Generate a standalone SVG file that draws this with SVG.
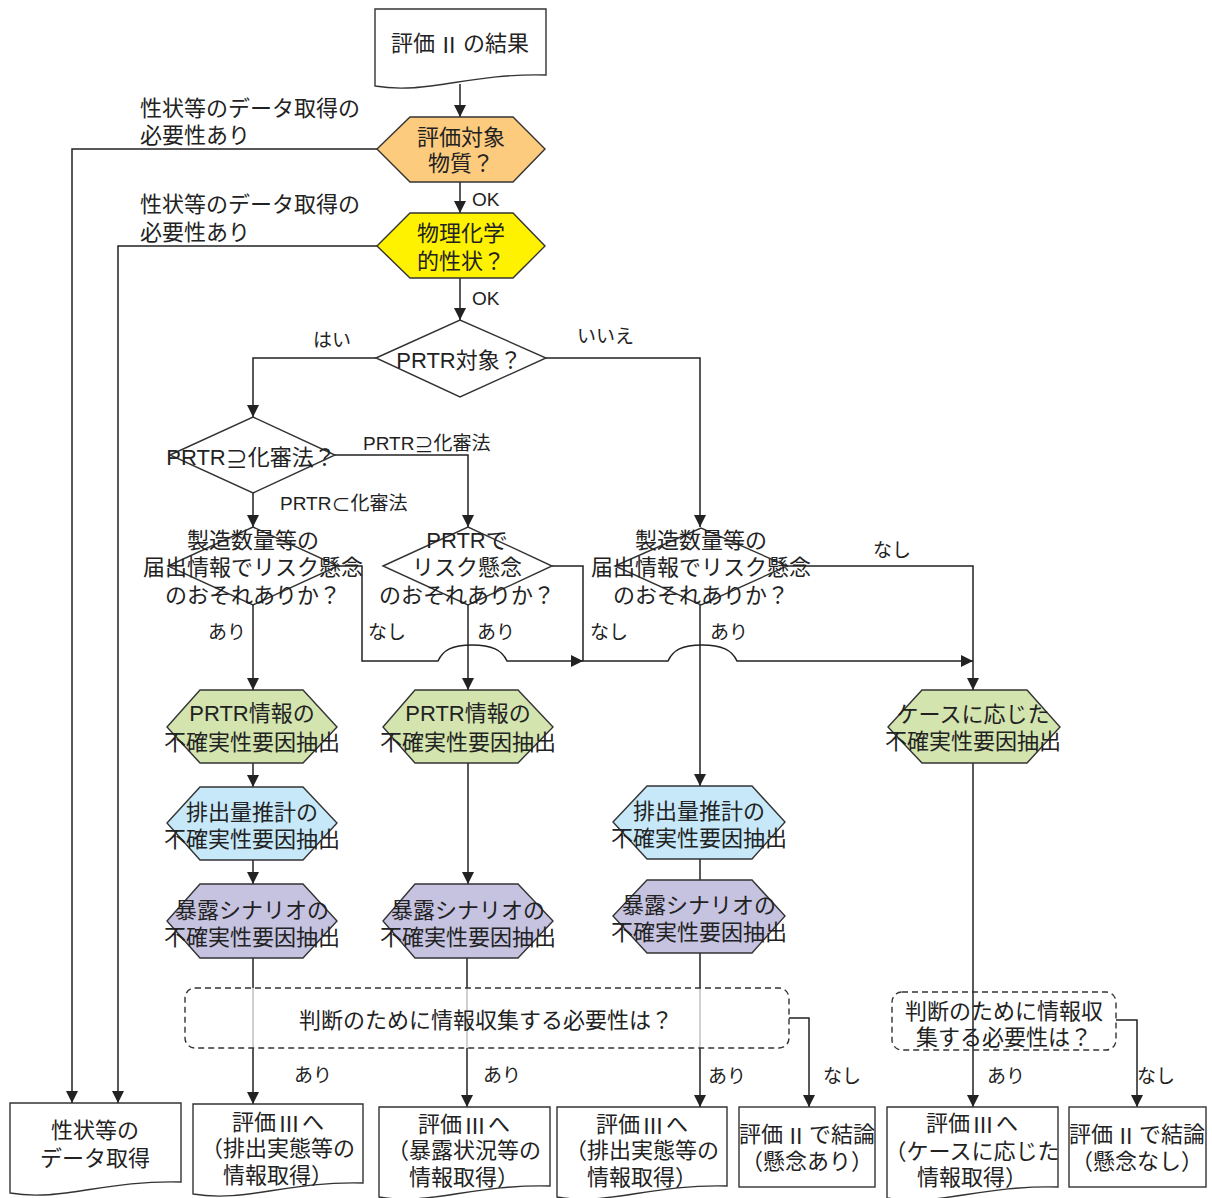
<svg xmlns="http://www.w3.org/2000/svg" width="1212" height="1198" viewBox="0 0 1212 1198">
<style>
.ln{fill:none;stroke:#222;stroke-width:1.5}
.lt{fill:none;stroke:#b0b0b0;stroke-width:1.2}
.sh{stroke:#333;stroke-width:1.4}
.box{fill:#fff;stroke:#333;stroke-width:1.4}
.dash{fill:none;stroke:#333;stroke-width:1.4;stroke-dasharray:6 4}
.t{font-family:"Liberation Sans","Noto Sans CJK JP",sans-serif;font-size:22px;fill:#222;text-anchor:middle;dominant-baseline:central}
.cj{font-family:"Noto Sans CJK JP",sans-serif}
.l{text-anchor:start}
.s{font-size:19px;text-anchor:start}
.or{fill:#FDCB7E}
.ye{fill:#FFF200}
.gr{fill:#D3E4AF}
.bl{fill:#C7E8F8}
.pu{fill:#C6C3E1}
.wh{fill:#fff}
</style>
<defs>
<marker id="a" markerUnits="userSpaceOnUse" markerWidth="12" markerHeight="12" refX="12" refY="6" orient="auto">
<path d="M0,0 L12,6 L0,12 z" fill="#222"/>
</marker>
</defs>

<g id="connectors">
<path class="ln" d="M460,84 V117" marker-end="url(#a)"/>
<path class="ln" d="M377,149 H72 V1103" marker-end="url(#a)"/>
<path class="ln" d="M460,182 V213" marker-end="url(#a)"/>
<path class="ln" d="M377,246 H118 V1103" marker-end="url(#a)"/>
<path class="ln" d="M460,278 V320" marker-end="url(#a)"/>
<path class="ln" d="M376,358 H253 V417" marker-end="url(#a)"/>
<path class="ln" d="M546,358 H700 V527" marker-end="url(#a)"/>
<path class="ln" d="M335,455 H468 V527" marker-end="url(#a)"/>
<path class="ln" d="M253,493 V527" marker-end="url(#a)"/>
<path class="ln" d="M338,566 H362 V661 H438 C443,650 452,645 472,645 C492,645 502,650 507,661 H583" marker-end="url(#a)"/>
<path class="ln" d="M552,566 H583 V661 H668 C673,650 682,645 702,645 C722,645 732,650 737,661 H973" marker-end="url(#a)"/>
<path class="ln" d="M787,566 H973 V690" marker-end="url(#a)"/>
<path class="ln" d="M253,605 V690" marker-end="url(#a)"/>
<path class="ln" d="M468,605 V690" marker-end="url(#a)"/>
<path class="ln" d="M700,605 V786" marker-end="url(#a)"/>
<path class="ln" d="M253,763 V787" marker-end="url(#a)"/>
<path class="ln" d="M253,860 V884" marker-end="url(#a)"/>
<path class="ln" d="M468,763 V884" marker-end="url(#a)"/>
<path class="ln" d="M700,859 V880"/>
<path class="ln" d="M253,958 V988"/>
<path class="lt" d="M253,988 V1048"/>
<path class="ln" d="M253,1048 V1104" marker-end="url(#a)"/>
<path class="ln" d="M467,958 V988"/>
<path class="lt" d="M467,988 V1048"/>
<path class="ln" d="M467,1048 V1107" marker-end="url(#a)"/>
<path class="ln" d="M700,953 V988"/>
<path class="lt" d="M700,988 V1048"/>
<path class="ln" d="M700,1048 V1107" marker-end="url(#a)"/>
<path class="ln" d="M973,763 V1107" marker-end="url(#a)"/>
<path class="ln" d="M789,1018 H809 V1107" marker-end="url(#a)"/>
<path class="ln" d="M1116,1020 H1137 V1107" marker-end="url(#a)"/>
</g>

<g id="labels">
<text class="t l" x="140" y="108">性状等のデータ取得の</text>
<text class="t l" x="140" y="135">必要性あり</text>
<text class="t l" x="140" y="204">性状等のデータ取得の</text>
<text class="t l" x="140" y="232">必要性あり</text>
<text class="t s" x="472" y="199">OK</text>
<text class="t s" x="472" y="298">OK</text>
<text class="t s" x="313" y="340">はい</text>
<text class="t s" x="577" y="336">いいえ</text>
<text class="t s" x="363" y="443">PRTR<tspan class="cj">⊇</tspan>化審法</text>
<text class="t s" x="280" y="503">PRTR<tspan class="cj">⊂</tspan>化審法</text>
<text class="t s" x="208" y="632">あり</text>
<text class="t s" x="368" y="632">なし</text>
<text class="t s" x="477" y="632">あり</text>
<text class="t s" x="590" y="632">なし</text>
<text class="t s" x="710" y="632">あり</text>
<text class="t s" x="873" y="550">なし</text>
<text class="t s" x="294" y="1075">あり</text>
<text class="t s" x="483" y="1075">あり</text>
<text class="t s" x="708" y="1076">あり</text>
<text class="t s" x="823" y="1076">なし</text>
<text class="t s" x="987" y="1076">あり</text>
<text class="t s" x="1137" y="1076">なし</text>
</g>

<g id="n_start">
<path class="box" d="M375,9 H546 V75 C469,73 426,95 375,86 Z"/>
<text class="t" x="460" y="43">評価<tspan class="cj" dx="3">Ⅱ</tspan><tspan dx="3">の結果</tspan></text>
</g>
<g id="n_target">
<polygon class="sh or" points="377,149 410,117 513,117 545,149 513,182 410,182"/>
<text class="t" x="461" y="137">評価対象</text>
<text class="t" x="461" y="163">物質？</text>
</g>
<g id="n_phys">
<polygon class="sh ye" points="377,246 410,213 513,213 545,246 513,278 410,278"/>
<text class="t" x="461" y="233">物理化学</text>
<text class="t" x="461" y="261">的性状？</text>
</g>
<g id="n_prtr">
<polygon class="sh wh" points="376,358 460,320 546,358 460,397"/>
<text class="t" x="459" y="360">PRTR対象？</text>
</g>
<g id="n_incl">
<polygon class="sh wh" points="170,455 253,417 335,455 253,493"/>
<text class="t" x="251" y="457">PRTR<tspan class="cj">⊇</tspan>化審法？</text>
</g>
<g id="n_d1">
<polygon class="sh wh" points="168,566 253,527 338,566 253,605"/>
<text class="t" x="253" y="540">製造数量等の</text>
<text class="t" x="253" y="567">届出情報でリスク懸念</text>
<text class="t" x="253" y="595">のおそれありか？</text>
</g>
<g id="n_d2">
<polygon class="sh wh" points="383,566 468,527 552,566 468,605"/>
<text class="t" x="467" y="540">PRTRで</text>
<text class="t" x="467" y="567">リスク懸念</text>
<text class="t" x="467" y="595">のおそれありか？</text>
</g>
<g id="n_d3">
<polygon class="sh wh" points="615,566 701,528 787,566 701,605"/>
<text class="t" x="701" y="540">製造数量等の</text>
<text class="t" x="701" y="567">届出情報でリスク懸念</text>
<text class="t" x="701" y="595">のおそれありか？</text>
</g>
<g id="n_g1">
<polygon class="sh gr" points="167,727 200,690 303,690 337,727 303,763 200,763"/>
<text class="t" x="252" y="713">PRTR情報の</text>
<text class="t" x="252" y="742">不確実性要因抽出</text>
</g>
<g id="n_b1">
<polygon class="sh bl" points="167,823 200,787 303,787 337,823 303,860 200,860"/>
<text class="t" x="252" y="812">排出量推計の</text>
<text class="t" x="252" y="839">不確実性要因抽出</text>
</g>
<g id="n_p1">
<polygon class="sh pu" points="167,921 200,884 303,884 337,921 303,958 200,958"/>
<text class="t" x="252" y="910">暴露シナリオの</text>
<text class="t" x="252" y="937">不確実性要因抽出</text>
</g>
<g id="n_g2">
<polygon class="sh gr" points="383,727 415,690 518,690 553,727 518,763 415,763"/>
<text class="t" x="468" y="713">PRTR情報の</text>
<text class="t" x="468" y="742">不確実性要因抽出</text>
</g>
<g id="n_p2">
<polygon class="sh pu" points="383,921 415,884 518,884 553,921 518,958 415,958"/>
<text class="t" x="468" y="910">暴露シナリオの</text>
<text class="t" x="468" y="937">不確実性要因抽出</text>
</g>
<g id="n_b3">
<polygon class="sh bl" points="613,822 647,786 752,786 785,822 752,859 647,859"/>
<text class="t" x="699" y="811">排出量推計の</text>
<text class="t" x="699" y="838">不確実性要因抽出</text>
</g>
<g id="n_p3">
<polygon class="sh pu" points="613,916 647,880 752,880 785,916 752,953 647,953"/>
<text class="t" x="699" y="905">暴露シナリオの</text>
<text class="t" x="699" y="932">不確実性要因抽出</text>
</g>
<g id="n_case">
<polygon class="sh gr" points="888,727 922,690 1027,690 1060,727 1027,763 922,763"/>
<text class="t" x="973" y="714">ケースに応じた</text>
<text class="t" x="973" y="741">不確実性要因抽出</text>
</g>
<g id="n_need1">
<rect class="dash" x="185" y="988" width="604" height="60" rx="10"/>
<text class="t" x="486" y="1020">判断のために情報収集する必要性は？</text>
</g>
<g id="n_need2">
<rect class="dash" x="892" y="992" width="224" height="58" rx="10"/>
<text class="t" x="1004" y="1011">判断のために情報収</text>
<text class="t" x="1004" y="1037">集する必要性は？</text>
</g>
<g id="n_dataA">
<path class="box" d="M10,1103 H181 V1182 C104,1180 61,1202 10,1193 Z"/>
<text class="t" x="95" y="1130">性状等の</text>
<text class="t" x="95" y="1158">データ取得</text>
</g>
<g id="n_e3a">
<path class="box" d="M193,1104 H363 V1183 C287,1181 244,1203 193,1194 Z"/>
<text class="t" x="278" y="1122">評価<tspan class="cj" dx="2">Ⅲ</tspan><tspan dx="2">へ</tspan></text>
<text class="t" x="278" y="1148">（排出実態等の</text>
<text class="t" x="278" y="1175">情報取得）</text>
</g>
<g id="n_e3b">
<path class="box" d="M379,1107 H550 V1186 C473,1184 430,1206 379,1197 Z"/>
<text class="t" x="464" y="1124">評価<tspan class="cj" dx="2">Ⅲ</tspan><tspan dx="2">へ</tspan></text>
<text class="t" x="464" y="1150">（暴露状況等の</text>
<text class="t" x="464" y="1177">情報取得）</text>
</g>
<g id="n_e3c">
<path class="box" d="M557,1107 H727 V1186 C651,1184 608,1206 557,1197 Z"/>
<text class="t" x="642" y="1124">評価<tspan class="cj" dx="2">Ⅲ</tspan><tspan dx="2">へ</tspan></text>
<text class="t" x="642" y="1150">（排出実態等の</text>
<text class="t" x="642" y="1177">情報取得）</text>
</g>
<g id="n_concl1">
<rect class="box" x="739" y="1107" width="136" height="80"/>
<text class="t" x="807" y="1134">評価<tspan class="cj" dx="2">Ⅱ</tspan><tspan dx="2">で結論</tspan></text>
<text class="t" x="807" y="1161">（懸念あり）</text>
</g>
<g id="n_e3d">
<path class="box" d="M887,1107 H1058 V1187 C981,1185 938,1207 887,1198 Z"/>
<text class="t" x="972" y="1123">評価<tspan class="cj" dx="2">Ⅲ</tspan><tspan dx="2">へ</tspan></text>
<text class="t" x="972" y="1151">（ケースに応じた</text>
<text class="t" x="972" y="1177">情報取得）</text>
</g>
<g id="n_concl2">
<rect class="box" x="1069" y="1107" width="137" height="80"/>
<text class="t" x="1137" y="1134">評価<tspan class="cj" dx="2">Ⅱ</tspan><tspan dx="2">で結論</tspan></text>
<text class="t" x="1137" y="1161">（懸念なし）</text>
</g>
</svg>
